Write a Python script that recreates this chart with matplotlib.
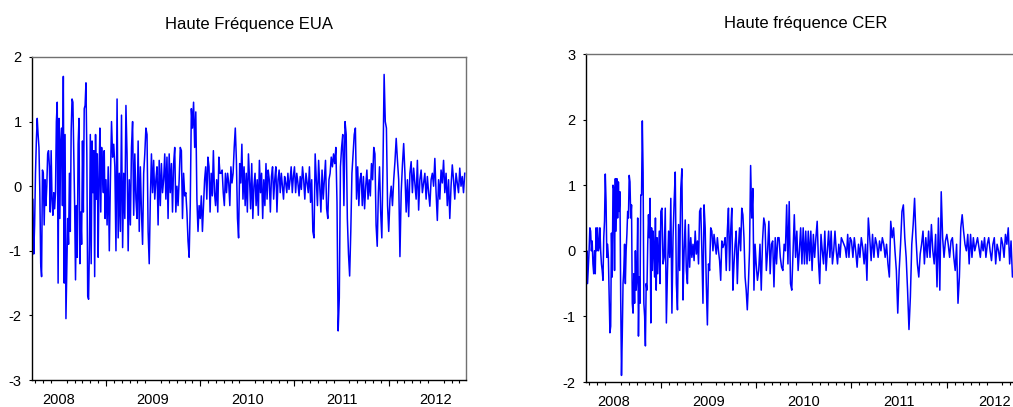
import numpy as np
import matplotlib
matplotlib.use('Agg')
import matplotlib.pyplot as plt

plt.rcParams['font.family'] = ['Liberation Sans', 'DejaVu Sans']
plt.rcParams['axes.unicode_minus'] = False

# sample span (fractional years), same for both series
start_year = 2008.215
end_year = 2012.82
years = [2008, 2009, 2010, 2011, 2012]

# EUA high-frequency component, one list per calendar year
eua_2008 = [-1.25, -0.2, -1.05, -0.6, 0.2, 0.7, 1.05, 0.8, 0.6, -0.1, -1.2, -1.4, 0.25, 0.2, -0.6, 0.1,
            -0.3, 0.0, 0.5, 0.55, 0.3, -0.4, 0.55, -0.2, -0.45, -0.1, -0.35, -0.1, 1.0, 1.3, -1.5, 1.05,
            -0.5, 0.7, 0.9, -0.3, 1.7, -1.5, 0.8, -2.05, -1.25, -0.5, -0.9, 0.2, -0.7, 0.85, 1.35, 1.3,
            0.5, -0.3, -1.45, -0.3, -1.1, 0.65, 1.05, -1.2, -0.4, -0.9, 0.7, -0.4, 1.2, 1.25, 1.6, 0.5,
            -1.7, -1.75, -0.9, 0.8, -1.2, 0.7, -0.1, 0.55, -1.4, 0.8, -0.2, 0.5, -1.1, 0.1, 0.9, -0.4,
            0.6, 0.2, -0.1, 0.55, -0.5]
eua_2009 = [0.1, -0.6, 0.3, -1.0, 0.1, 1.0, 0.45, 0.65, 0.3, -1.0, 1.35, -0.8, 0.2, -0.7, 1.1, -0.95,
            0.2, -0.5, 1.25, 0.5, -1.0, 0.1, -0.6, 0.6, 1.0, -0.45, 0.5, -0.2, -0.5, 0.7, -0.7, 0.3,
            -0.4, -0.9, 0.2, 0.5, 0.9, 0.8, -0.7, -1.2, -0.2, 0.5, -0.1, 0.4, -0.2, 0.1, 0.3, -0.6,
            0.4, -0.3, 0.35, -0.1, 0.1, 0.5, -0.2, 0.45, -0.5, 0.5, -0.1, 0.35, -0.4, 0.35, 0.6, -0.4,
            0.0, -0.3, 0.1, 0.6, 0.55, -0.5, 0.2, -0.15, -0.1, -0.4, -0.85, -1.1, -0.3, 1.2, 0.9, 1.3,
            0.6, 1.15, -0.2, -0.7, -0.3]
eua_2010 = [-0.5, -0.15, -0.7, -0.3, 0.1, 0.3, -0.2, 0.45, 0.3, -0.4, 0.2, -0.15, 0.55, -0.1, -0.3, 0.1,
            -0.4, 0.45, 0.2, 0.2, 0.25, -0.1, -0.3, 0.2, -0.1, 0.2, 0.05, -0.3, 0.3, 0.05, 0.2, 0.6,
            0.9, 0.4, -0.5, -0.8, 0.35, 0.05, 0.65, -0.2, 0.3, -0.3, 0.2, -0.4, 0.5, 0.1, -0.35,
            0.35, -0.5, 0.0, 0.2, -0.3, 0.1, -0.45, 0.4, -0.1, 0.2, -0.5, 0.1, -0.3, 0.35, -0.2, 0.25,
            0.1, -0.4, 0.15, 0.3, -0.2, 0.1, 0.3, -0.4, 0.1, 0.25, -0.1, 0.2, 0.0, -0.2, 0.15, 0.05,
            -0.1, 0.2, -0.05, 0.1, 0.3, -0.1, 0.15]
eua_2011 = [0.3, -0.1, 0.2, 0.05, -0.15, 0.15, -0.05, 0.3, 0.1, -0.2, 0.2, 0.05, -0.1, 0.3, -0.25, 0.1,
            -0.7, -0.8, 0.5, 0.1, -0.3, 0.4, 0.0, -0.4, 0.25, -0.2, 0.1, 0.4, -0.35, -0.5, 0.1, 0.2,
            0.45, 0.3, 0.5, 0.35, 0.6, -0.25, -2.24, -1.73, 0.3, 0.6, 0.8, -0.3, 1.0, 0.8, -0.5, -1.05,
            -1.39, -0.7, 0.2, 0.5, 0.8, 0.9, -0.2, 0.3, -0.3, 0.1, 0.2, -0.3, 0.15, -0.35, 0.0, 0.25,
            -0.2, 0.1, -0.15, 0.35, 0.1, 0.6, 0.5, -0.6, -0.93, -0.1, 0.3, -0.4, -0.8, 0.3, 1.73, 1.0,
            0.9, -0.3]
eua_2012 = [-0.7, -0.2, 0.0, -0.3, 0.1, 0.38, 0.74, 0.4, 0.1, -1.09, -0.1, 0.33, 0.66, 0.2, -0.4, 0.1,
            -0.47, 0.2, 0.38, -0.1, 0.28, 0.05, -0.2, 0.4, -0.37, 0.1, 0.25, -0.1, 0.05, 0.2, -0.2, 0.15,
            -0.1, -0.31, 0.1, 0.2, 0.0, 0.43, -0.1, -0.53, 0.1, -0.2, 0.25, 0.05, 0.4, -0.1, 0.2, -0.3,
            0.1, -0.5, 0.0, 0.33, 0.1, -0.2, 0.2, 0.05, -0.1, 0.28, 0.0, 0.15, -0.1, 0.2]

# CER high-frequency component
cer_2008 = [-0.55, 0.0, -0.5, -0.25, 0.0, 0.35, 0.3, 0.0, 0.15, -0.2, -0.35, 0.0, -0.35, 0.35, 0.0, 0.35,
            0.0, 0.05, 0.35, 0.0, -0.2, -0.3, -0.45, 0.2, 0.45, 1.17, 0.75, -0.1, 0.1, -0.1, -0.7, -1.25,
            -1.15, 0.27, -0.4, 1.0, 0.95, -0.3, 1.1, 0.3, 1.1, 0.5, 1.05, 0.6, 0.9, -0.75, -1.9, -1.3,
            -0.5, -0.3, 0.1, -0.5, 0.0, 0.25, 0.6, 0.5, 1.15, 1.05, 0.5, 0.7, -0.8, -0.95, -0.35, -0.8,
            0.0, -0.6, -0.4, 0.5, -1.3, -0.4, -0.8, 0.85, 0.85, 1.98, 1.2, -0.8, -1.0, -1.45, -0.5, -0.6,
            0.1, 0.55, 0.2, 0.8, -1.1, 0.35, -0.3, 0.3, 0.0, -0.4, 0.5, -0.6, 0.2, -0.35, 0.0, 0.3, -0.5]
cer_2009 = [0.6, 0.65, -0.2, -0.1, 0.65, -1.1, -0.3, 0.3, -0.1, 0.8, -0.95, 0.2, 0.75, 1.2, -0.5, -0.9,
            0.4, -0.3, 0.95, 1.25, -0.75, 0.0, 0.47, -0.3, -0.5, 0.4, -0.25, 0.2, -0.1, 0.1, -0.15, 0.3,
            -0.05, 0.15, -0.2, 0.6, 0.65, 0.0, -0.8, 0.7, 0.35, -0.5, -1.13, -0.2, -0.3, 0.35, 0.3, 0.0,
            0.25, 0.1, -0.05, 0.2, 0.0, -0.15, -0.45, 0.15, 0.05, 0.1, 0.2, -0.3, 0.3, 0.65, -0.3, 0.3,
            0.65, -0.6, -0.2, 0.1, 0.3, -0.5, 0.05, 0.35, 0.0, 0.65, 0.55, 0.2, -0.4, -0.6, -0.9, -0.5,
            0.0, 1.3, 0.5, 0.95, -0.6, 0.1]
cer_2010 = [-0.2, -0.45, -0.3, 0.1, -0.6, 0.15, 0.5, 0.4, -0.3, 0.0, 0.45, -0.35, 0.1, 0.15, -0.55, 0.2,
            -0.2, 0.2, 0.2, -0.1, -0.25, -0.3, 0.1, 0.0, 0.7, -0.2, 0.75, -0.5, -0.6, 0.0,
            0.55, -0.1, 0.3, -0.3, 0.0, 0.35, -0.2, 0.35, -0.2, 0.3, -0.2, 0.3, -0.15, 0.3, -0.3, 0.25,
            -0.1, 0.2, 0.45, -0.15, -0.5, 0.25, 0.0, -0.2, 0.3, -0.3, 0.0, 0.3, -0.1, 0.3, -0.2, 0.0,
            0.3, 0.0, -0.2, 0.1, -0.1, 0.2, 0.15, 0.1, 0.05, -0.1, 0.25, -0.1, 0.2]
cer_2011 = [0.15, -0.1, 0.2, 0.0, -0.25, 0.1, -0.1, 0.2, 0.05, -0.2, 0.1, -0.45, 0.5, 0.2, -0.15, 0.25,
            -0.1, 0.2, 0.1, -0.1, 0.15, 0.0, 0.2, 0.1, -0.1, 0.1, -0.2, -0.4, 0.45, 0.2, 0.35, 0.0,
            -0.3, -0.95, -0.3, 0.1, 0.6, 0.7, 0.2, -0.1, -0.6, -1.2, -0.7, 0.1, 0.4, 0.8, 0.2, -0.2,
            -0.4, -0.05, 0.1, 0.3, -0.2, 0.2, -0.1, 0.3, -0.1, 0.4, 0.0, -0.2, 0.25, -0.55, 0.5, -0.6,
            0.9, 0.2, -0.1, 0.15]
cer_2012 = [0.25, 0.1, -0.1, 0.15, 0.2, -0.1, -0.3, 0.1, -0.8, -0.4, 0.35, 0.55, 0.3, 0.1, 0.0, 0.25,
            -0.2, 0.25, -0.1, 0.2, 0.0, 0.1, 0.2, 0.05, -0.1, 0.15, 0.0, 0.2, -0.1, 0.1, 0.2, 0.0,
            -0.15, 0.1, 0.2, -0.2, 0.1, 0.0, -0.15, 0.2, 0.1, -0.1, 0.25, 0.1, 0.35, -0.2, 0.15, -0.4,
            -0.3, 0.1, -0.2, 0.15, 0.0, 0.2, -0.1, 0.1]


def build_series(chunks):
    xs, ys = [], []
    for yr, vals in zip(years, chunks):
        a = max(yr, start_year)
        b = min(yr + 1, end_year)
        xs.append(np.linspace(a, b, len(vals), endpoint=False))
        ys.append(vals)
    return np.concatenate(xs), np.concatenate(ys)


def style_axes(ax, ylim, title, pad):
    ax.set_yticks(np.arange(ylim[0], ylim[1] + 1))
    ax.tick_params(axis='y', direction='out', length=2.5, width=0.8, pad=5, labelsize=10.5)
    # year labels in middle of each year, monthly minor ticks
    ax.set_xticks([y + 0.5 for y in years], [str(y) for y in years])
    ax.set_xticks(np.arange(2008, 2013 + 1 / 12, 1 / 12), minor=True)
    ax.tick_params(axis='x', which='major', length=0, pad=9, labelsize=10.5)
    ax.tick_params(axis='x', which='minor', direction='out', length=1.8, width=0.8)
    sec = ax.secondary_xaxis('bottom')
    sec.set_xticks(years[1:] + [2013])
    sec.tick_params(direction='out', length=4, width=0.8, labelbottom=False)
    sec.spines['bottom'].set_visible(False)
    for s in ['left', 'bottom']:
        ax.spines[s].set_color('black')
    for s in ['top', 'right']:
        ax.spines[s].set_color('#707070')
    for s in ax.spines.values():
        s.set_linewidth(1.0)
    ax.set_title(title, fontsize=12, pad=pad)
    ax.set_xlim(start_year, end_year)
    ax.set_ylim(*ylim)


fig = plt.figure(figsize=(10.13, 4.07), dpi=100)
ax1 = fig.add_axes([32 / 1013, 27 / 407, 434 / 1013, 323 / 407])
ax2 = fig.add_axes([586 / 1013, 25 / 407, 439 / 1013, 328 / 407])

x1, y1 = build_series([eua_2008, eua_2009, eua_2010, eua_2011, eua_2012])
x2, y2 = build_series([cer_2008, cer_2009, cer_2010, cer_2011, cer_2012])

ax1.plot(x1, y1, color='#0000ff', linewidth=1.1)
ax2.plot(x2, y2, color='#0000ff', linewidth=1.1)

style_axes(ax1, (-3, 2), 'Haute Fréquence EUA', 20)
style_axes(ax2, (-2, 3), 'Haute fréquence CER', 19)

fig.savefig('out.png', dpi=100)
